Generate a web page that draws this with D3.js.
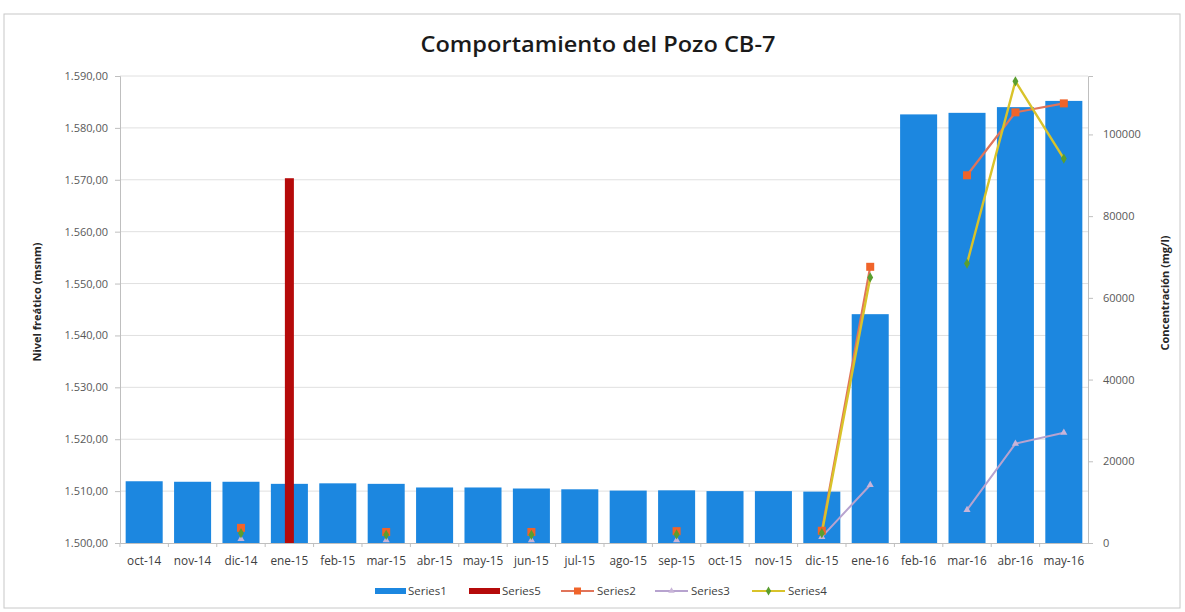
<!DOCTYPE html>
<html><head><meta charset="utf-8">
<script src="https://cdn.jsdelivr.net/npm/d3@7"></script>
<style>
body{margin:0;background:#fff;}
text{font-family:"Open Sans","Lato",sans-serif;}
</style></head>
<body>
<svg id="chart" width="1185" height="612"></svg>
<script>
const categories = ["oct-14","nov-14","dic-14","ene-15","feb-15","mar-15","abr-15","may-15","jun-15","jul-15","ago-15","sep-15","oct-15","nov-15","dic-15","ene-16","feb-16","mar-16","abr-16","may-16"];
const series1 = [1511.9,1511.8,1511.8,1511.4,1511.5,1511.4,1510.7,1510.7,1510.5,1510.35,1510.1,1510.15,1510.0,1510.0,1509.9,1544.1,1582.6,1582.9,1584.0,1585.2];
const series5 = [null,null,null,1570.3,null,null,null,null,null,null,null,null,null,null,null,null,null,null,null,null];
const series2 = [null,null,3700,null,null,2700,null,null,2700,null,null,2900,null,null,3000,67600,null,90000,105400,107600];
const series3 = [null,null,1000,null,null,700,null,null,700,null,null,700,null,null,1500,14200,null,8100,24300,27000];
const series4 = [null,null,2400,null,null,2000,null,null,2000,null,null,2100,null,null,2400,65000,null,68400,113000,94100];
const leftTicks = [1500,1510,1520,1530,1540,1550,1560,1570,1580,1590];
const rightTicks = [0,20000,40000,60000,80000,100000];

const svg = d3.select("#chart");
const m = {left:120, right:1088, top:76, bottom:543};

svg.append("rect").attr("x",4).attr("y",14).attr("width",1176).attr("height",594)
  .attr("fill","#fff").attr("stroke","#c8c8c8").attr("stroke-width",1);

const x = d3.scaleBand().domain(categories).range([m.left,m.right]).paddingInner(0.235).paddingOuter(0.117);
const yL = d3.scaleLinear().domain([1500,1590]).range([m.bottom,m.top]);
const yR = d3.scaleLinear().domain([0,114300]).range([m.bottom,m.top]);

// gridlines
svg.append("g").selectAll("line").data(leftTicks.slice(1)).join("line")
  .attr("x1",m.left).attr("x2",m.right)
  .attr("y1",d=>yL(d)).attr("y2",d=>yL(d))
  .attr("stroke","#e0e0e0").attr("stroke-width",1);

// bars series1
svg.append("g").selectAll("rect").data(categories).join("rect")
  .attr("x",d=>x(d)).attr("width",x.bandwidth())
  .attr("y",(d,i)=>yL(series1[i])).attr("height",(d,i)=>yL(1500)-yL(series1[i]))
  .attr("fill","#1c87e0");

// series5 narrow bar
const s5w = 9;
svg.append("g").selectAll("rect").data(categories.filter((d,i)=>series5[i]!=null)).join("rect")
  .attr("x",d=>x(d)+x.bandwidth()/2-s5w/2).attr("width",s5w)
  .attr("y",d=>yL(series5[categories.indexOf(d)]))
  .attr("height",d=>yL(1500)-yL(series5[categories.indexOf(d)]))
  .attr("fill","#b50a0a");

// left axis
const axL = svg.append("g").attr("transform",`translate(${m.left},0)`)
  .call(d3.axisLeft(yL).tickValues(leftTicks).tickSize(5).tickPadding(7)
    .tickFormat(d=>d3.format(".2f")(d).replace(".",",").replace(/^(\d)(\d{3})/,"$1.$2")));
axL.select(".domain").attr("stroke","#bfbfbf");
axL.selectAll(".tick line").attr("stroke","#bfbfbf");
axL.selectAll("text").attr("fill","#595959").attr("font-size","11px");

// right axis
const axR = svg.append("g").attr("transform",`translate(${m.right},0)`)
  .call(d3.axisRight(yR).tickValues(rightTicks).tickSize(5).tickPadding(10).tickFormat(d3.format("d")));
axR.select(".domain").attr("stroke","#bfbfbf");
axR.selectAll(".tick line").attr("stroke","#bfbfbf");
axR.selectAll("text").attr("fill","#595959").attr("font-size","11px");

// bottom axis
const axB = svg.append("g").attr("transform",`translate(0,${m.bottom})`)
  .call(d3.axisBottom(x).tickSize(0).tickPadding(14));
axB.select(".domain").attr("stroke","#bfbfbf");
axB.selectAll("text").attr("fill","#404040").attr("font-size","11.8px");
svg.append("g").selectAll("line").data(categories).join("line")
  .attr("x1",d=>x(d)-x.step()*x.paddingInner()/2).attr("x2",d=>x(d)-x.step()*x.paddingInner()/2)
  .attr("y1",m.bottom).attr("y2",m.bottom+4).attr("stroke","#bfbfbf");

// lines
const xc = d=>x(d)+x.bandwidth()/2;
function drawLine(vals,color,width){
  const line = d3.line().defined(d=>d.v!=null).x(d=>xc(d.c)).y(d=>yR(d.v));
  svg.append("path").datum(categories.map((c,i)=>({c,v:vals[i]})))
    .attr("d",line).attr("fill","none").attr("stroke",color).attr("stroke-width",width);
}
drawLine(series3,"#b7a3cf",2);
drawLine(series2,"#e0745a",2.2);
drawLine(series4,"#d9c32a",2.4);

const pts = (vals)=>categories.map((c,i)=>({c,v:vals[i]})).filter(d=>d.v!=null);
svg.append("g").selectAll("path").data(pts(series3)).join("path")
  .attr("d",d3.symbol().type(d3.symbolTriangle).size(22))
  .attr("transform",d=>`translate(${xc(d.c)},${yR(d.v)})`).attr("fill","#c8b4d8");
svg.append("g").selectAll("rect").data(pts(series2)).join("rect")
  .attr("x",d=>xc(d.c)-4).attr("y",d=>yR(d.v)-4).attr("width",8).attr("height",8)
  .attr("fill","#f0642a");
svg.append("g").selectAll("path").data(pts(series4)).join("path")
  .attr("d",d3.symbol().type(d3.symbolDiamond).size(30))
  .attr("transform",d=>`translate(${xc(d.c)},${yR(d.v)})`).attr("fill","#5a9e2f");

// title
svg.append("text").attr("x",598).attr("y",52).attr("text-anchor","middle")
  .attr("font-size","21px").attr("font-weight","600").attr("fill","#1a1a1a")
  .attr("textLength",355).attr("lengthAdjust","spacingAndGlyphs")
  .text("Comportamiento del Pozo CB-7");

// axis titles
svg.append("text").attr("transform","translate(41,302) rotate(-90)").attr("text-anchor","middle")
  .attr("font-size","11px").attr("font-weight","bold").attr("fill","#262626").text("Nivel freático (msnm)");
svg.append("text").attr("transform","translate(1169,293) rotate(-90)").attr("text-anchor","middle")
  .attr("font-size","11px").attr("font-weight","bold").attr("fill","#262626").text("Concentración (mg/l)");

// legend
const lg = svg.append("g");
const legY = 591;
const legendItems = [
  {name:"Series1", type:"bar", color:"#1c87e0", x:375},
  {name:"Series5", type:"bar", color:"#b50a0a", x:469},
  {name:"Series2", type:"line", color:"#e0745a", mk:"sq", mc:"#f0642a", x:561},
  {name:"Series3", type:"line", color:"#b7a3cf", mk:"tri", mc:"#c8b4d8", x:655},
  {name:"Series4", type:"line", color:"#d9c32a", mk:"dia", mc:"#5a9e2f", x:752}
];
legendItems.forEach(it=>{
  if(it.type==="bar"){
    lg.append("rect").attr("x",it.x).attr("y",legY-3).attr("width",31).attr("height",6).attr("fill",it.color);
  } else {
    lg.append("line").attr("x1",it.x).attr("x2",it.x+33).attr("y1",legY).attr("y2",legY).attr("stroke",it.color).attr("stroke-width",2);
    const cx = it.x+16.5;
    if(it.mk==="sq") lg.append("rect").attr("x",cx-3.5).attr("y",legY-3.5).attr("width",7).attr("height",7).attr("fill",it.mc);
    if(it.mk==="tri") lg.append("path").attr("d",d3.symbol().type(d3.symbolTriangle).size(18)).attr("transform",`translate(${cx},${legY})`).attr("fill",it.mc);
    if(it.mk==="dia") lg.append("path").attr("d",d3.symbol().type(d3.symbolDiamond).size(24)).attr("transform",`translate(${cx},${legY})`).attr("fill",it.mc);
  }
  lg.append("text").attr("x",it.x+(it.type==="bar"?33:36)).attr("y",legY+4).attr("font-size","11.5px").attr("fill","#404040").text(it.name);
});
</script>
</body></html>
